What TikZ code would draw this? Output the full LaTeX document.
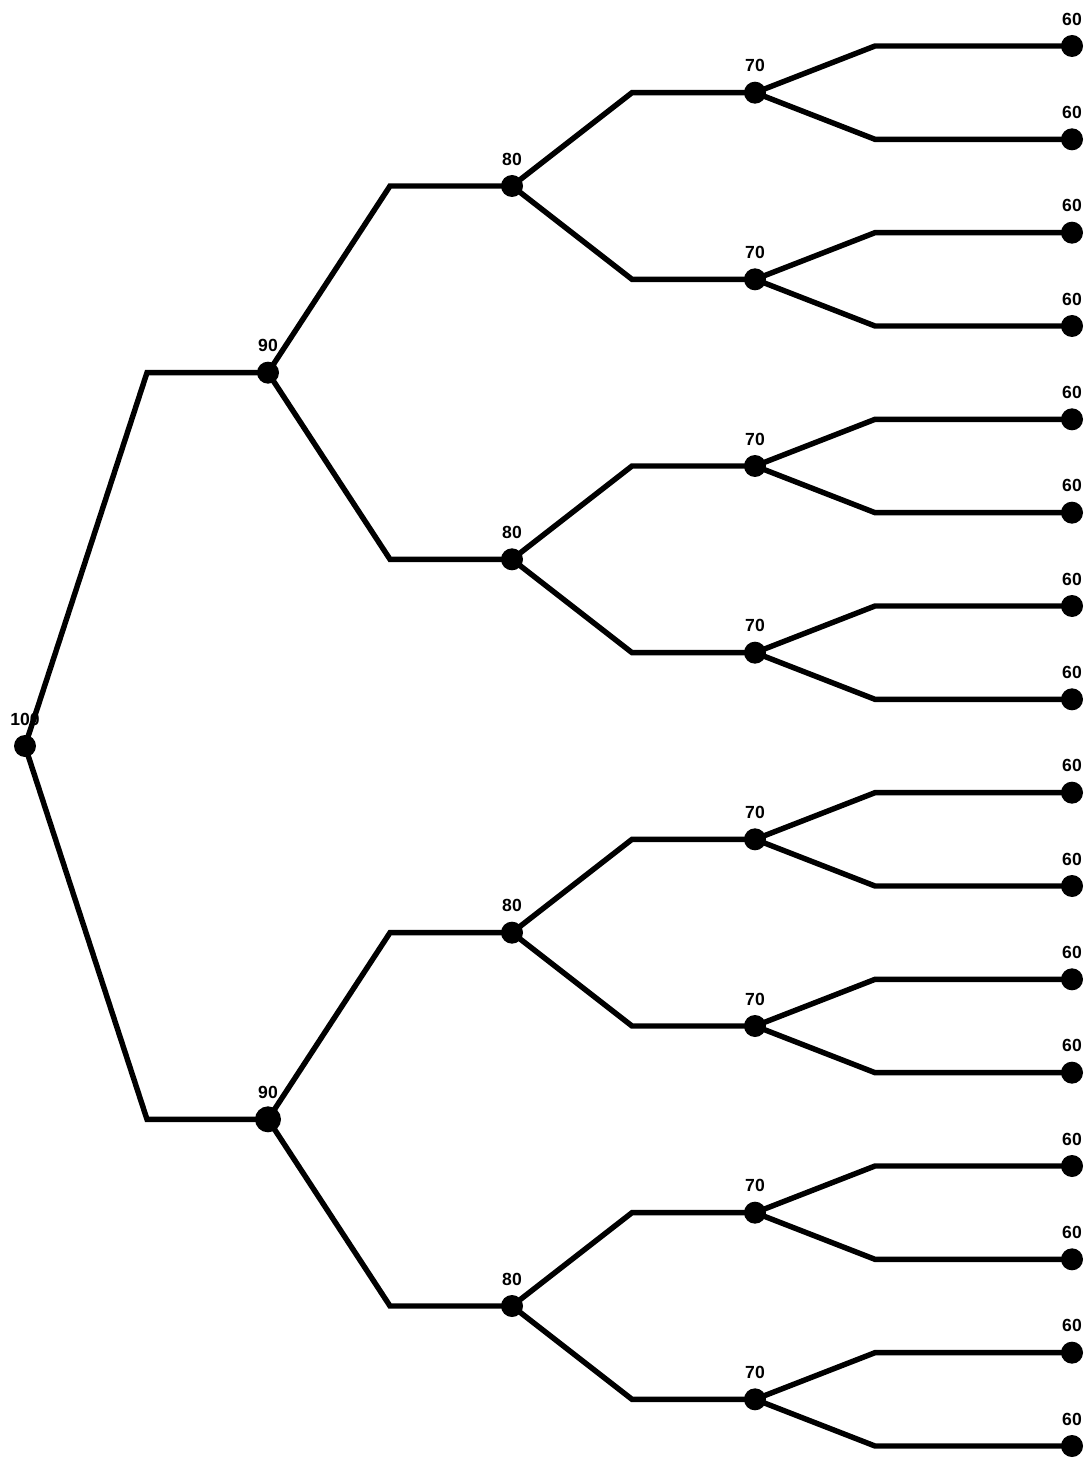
\documentclass[tikz,border=0pt]{standalone}
\usepackage{fontspec}
\setmainfont{Liberation Sans}
\usetikzlibrary{calc}

\tikzset{
  dot/.style={circle,fill=black,inner sep=0pt,minimum size=0.44cm},
  val/.style={font=\bfseries\fontsize{10}{12}\selectfont,inner sep=0pt},
  edge/.style={line width=3.1pt}
}

\begin{document}
\begin{tikzpicture}[x=0.02cm,y=-0.02cm]
  \useasboundingbox (0,0) rectangle (1091,1459);
  % root
  \node[dot] (n1) at (25,746) {};
  \node[val] (l1) at (25,719) {100};
  % levels: depth / x of the dots / value / length of the flat part
  \foreach \d/\x/\v/\h in {1/268/90/121, 2/512/80/122, 3/755/70/123, 4/1072/60/197}{
    \pgfmathtruncatemacro\n{2^\d}
    \pgfmathtruncatemacro\last{2*\n-1}
    \foreach \i in {\n,...,\last}{
      \pgfmathtruncatemacro\p{\i/2}
      \pgfmathsetmacro\y{46+93.333*((\i-\n)*16/\n+(16/\n-1)/2)}
      \pgfmathsetmacro\s{\i==3 ? 0.52 : 0.44}
      \node[dot,minimum size=\s cm] (n\i) at (\x,\y) {};
      \node[val] (l\i) at (\x,\y-27) {\v};
      \draw[edge] (n\p.center) -- ($(n\i.center)+(-\h,0)$) -- (n\i.center);
    }
  }
\end{tikzpicture}
\end{document}
